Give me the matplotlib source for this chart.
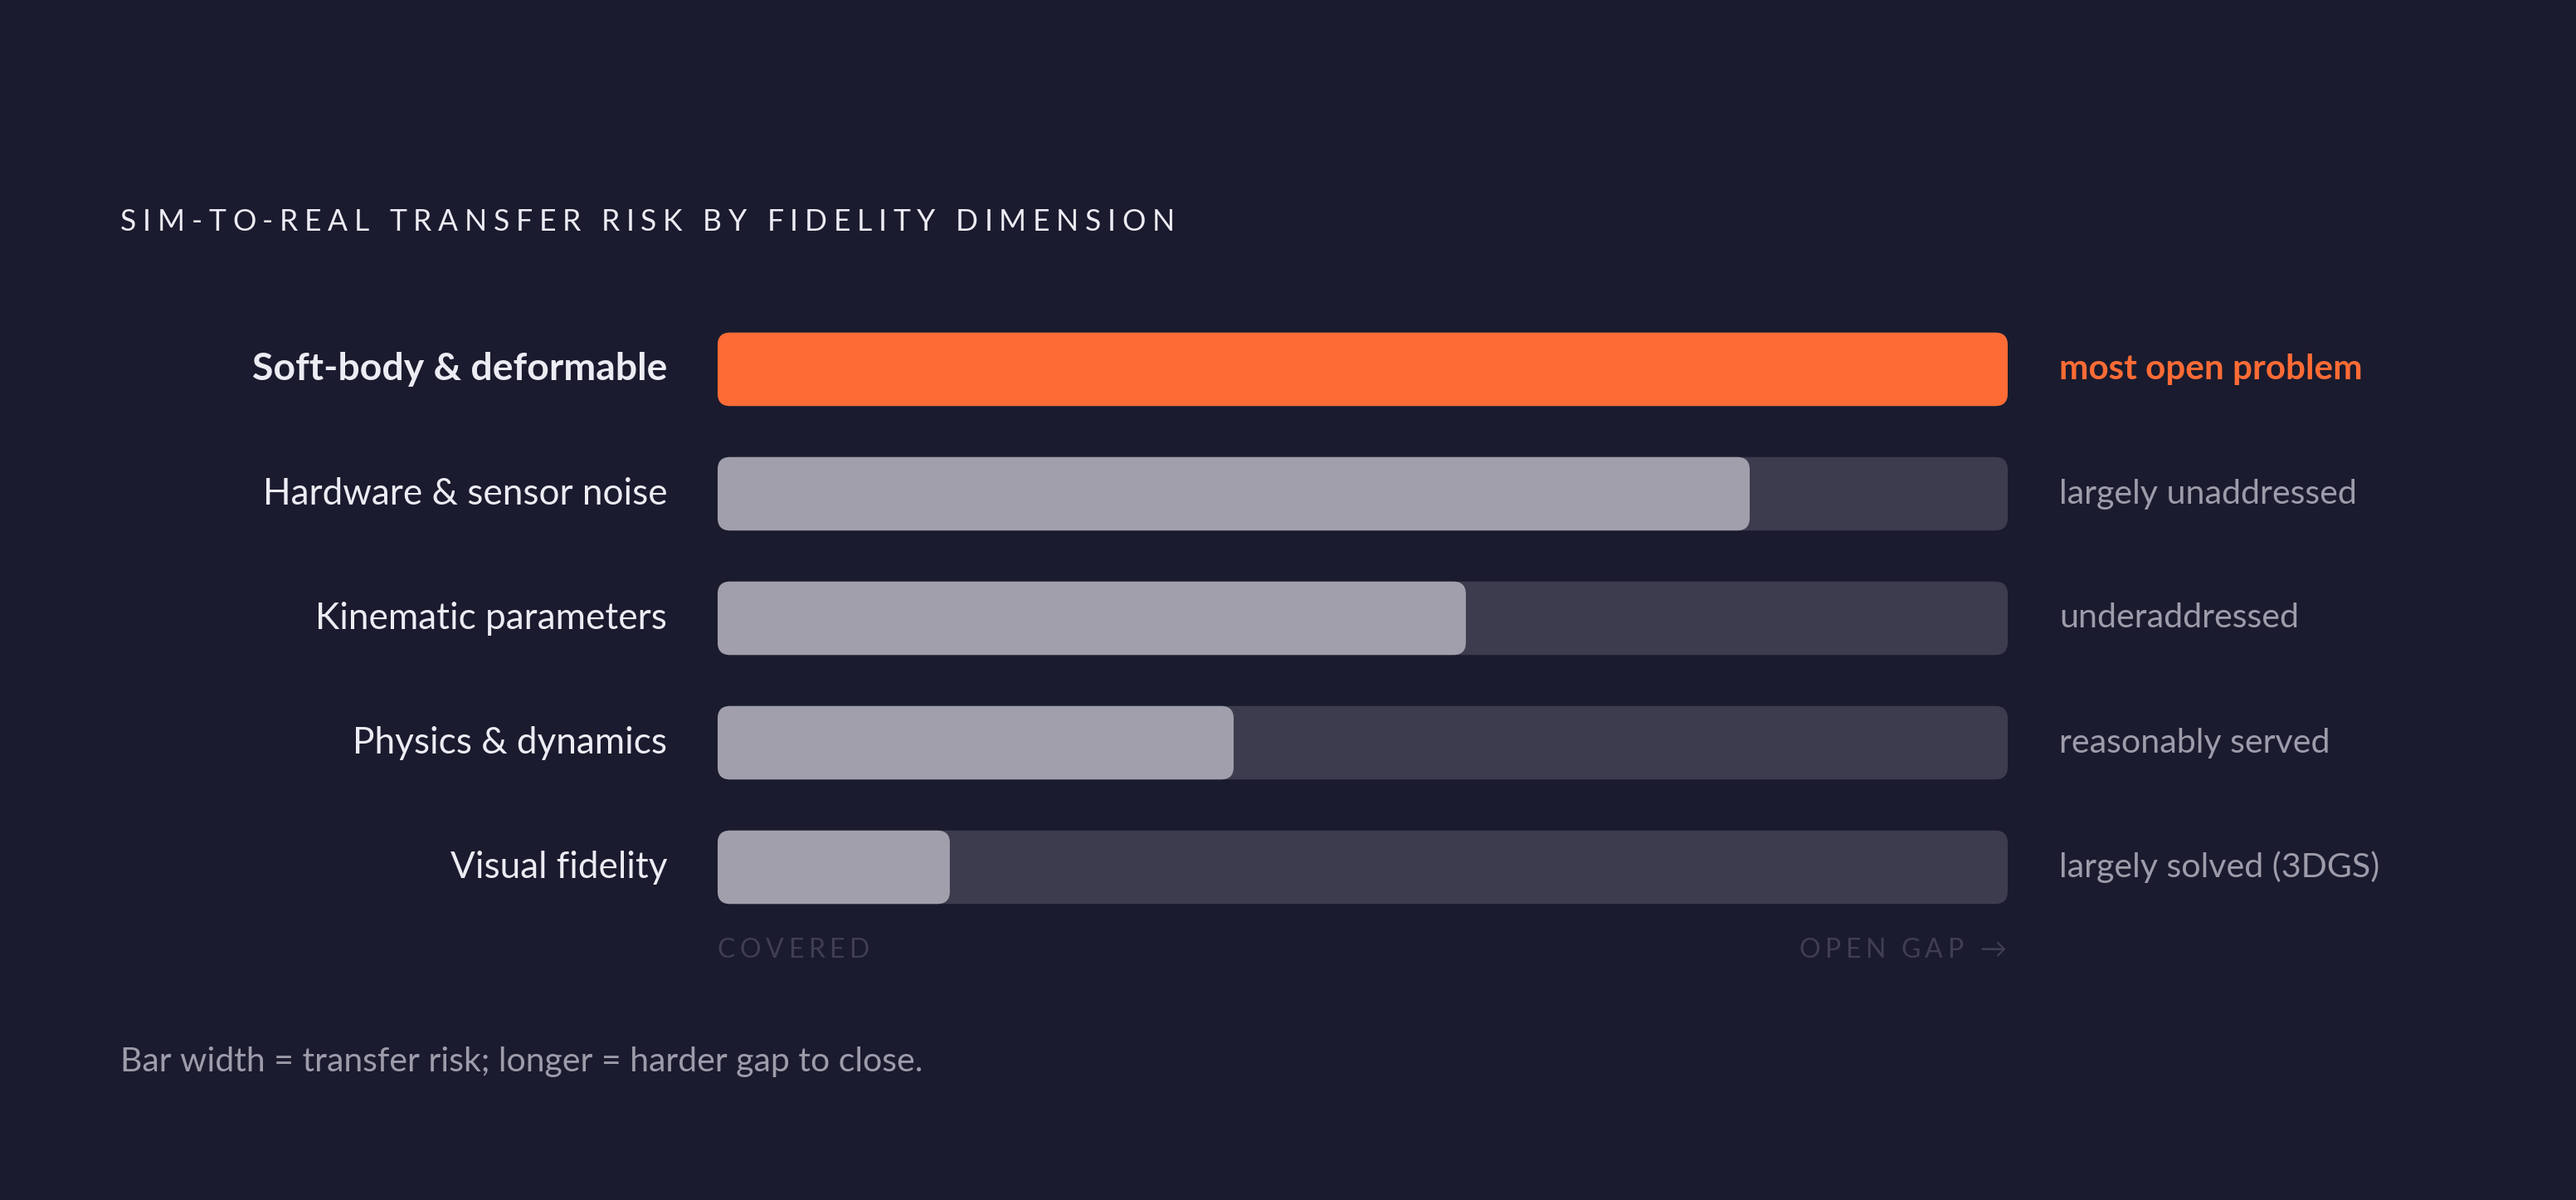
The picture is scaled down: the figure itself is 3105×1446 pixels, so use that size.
import matplotlib
matplotlib.use("Agg")
import matplotlib.pyplot as plt
from matplotlib.patches import FancyBboxPatch

# data
dimensions = ["Soft-body & deformable", "Hardware & sensor noise", "Kinematic parameters",
              "Physics & dynamics", "Visual fidelity"]
risk = [1.00, 0.80, 0.58, 0.40, 0.18]
notes = ["most open problem", "largely unaddressed", "underaddressed",
         "reasonably served", "largely solved (3DGS)"]
title = "SIM-TO-REAL TRANSFER RISK BY FIDELITY DIMENSION"
footer = "Bar width = transfer risk; longer = harder gap to close."

BG = "#1a1b2e"
ORANGE = "#ff6b35"
GREY_BAR = "#a09fab"
TRACK = "#3d3c4e"
LABEL = "#ececf4"
NOTE = "#9d9cab"
DIM = "#3f3e52"

W, H, DPI = 3105, 1446, 200
FONT = "Lato"

fig = plt.figure(figsize=(W / DPI, H / DPI), dpi=DPI, facecolor=BG)
renderer = fig.canvas.get_renderer()


def fx(px):
    return px / W


def fy(py):
    return 1 - py / H


def text_width(s, **kw):
    t = fig.text(0, 0, s + "|", **kw)
    t2 = fig.text(0, 0, "|", **kw)
    w = t.get_window_extent(renderer).width - t2.get_window_extent(renderer).width
    t.remove()
    t2.remove()
    return w


def spaced(x, y, s, track, ha="left", **kw):
    # draw text with letter spacing (track in px), x/y in pixels
    total = text_width(s, **kw) + track * (len(s) - 1)
    x0 = x if ha == "left" else x - total
    for i, c in enumerate(s):
        if c == " ":
            continue
        off = text_width(s[:i], **kw) + track * i
        fig.text(fx(x0 + off), fy(y), c, ha="left", va="center", **kw)


# track area axes
left, right = 865, 2420
top, bottom = 370, 1120
ax = fig.add_axes([fx(left), fy(bottom), fx(right - left), (bottom - top) / H])
ax.set_xlim(0, 1)
ax.set_ylim(len(dimensions) - 0.5, -0.5)
ax.axis("off")

bar_h = 0.59
rad_px = 15
rx = rad_px / (right - left)
ry = rad_px / ((bottom - top) / len(dimensions))
asp = ry / rx

for i, (name, v, note) in enumerate(zip(dimensions, risk, notes)):
    hl = i == 0
    ax.add_patch(FancyBboxPatch((0, i - bar_h / 2), 1, bar_h,
                                boxstyle=f"round,pad=0,rounding_size={rx}",
                                mutation_aspect=asp, fc=TRACK, ec="none"))
    ax.add_patch(FancyBboxPatch((0, i - bar_h / 2), v, bar_h,
                                boxstyle=f"round,pad=0,rounding_size={rx}",
                                mutation_aspect=asp, fc=ORANGE if hl else GREY_BAR, ec="none"))
    ax.text(-0.039, i, name, ha="right", va="center", fontsize=16.7 if hl else 15.9,
            family=FONT, color=LABEL, fontweight="bold" if hl else "normal", clip_on=False)
    ax.text(1.04, i, note, ha="left", va="center", fontsize=15.2 if hl else 14.8,
            family=FONT, color=ORANGE if hl else NOTE,
            fontweight="bold" if hl else "normal", clip_on=False)

spaced(145, 267, title, 7.7, color=LABEL, fontsize=12.8, family=FONT)
spaced(865, 1145, "COVERED", 5.5, color=DIM, fontsize=11.5, family=FONT)
spaced(2418, 1145, "OPEN GAP \u2192", 5.5, ha="right", color=DIM, fontsize=11.5,
       family=[FONT, "DejaVu Sans"])
fig.text(fx(145), fy(1279), footer, ha="left", va="center", fontsize=14.75,
         family=FONT, color=NOTE)

fig.savefig("out.png", dpi=DPI, facecolor=BG)
